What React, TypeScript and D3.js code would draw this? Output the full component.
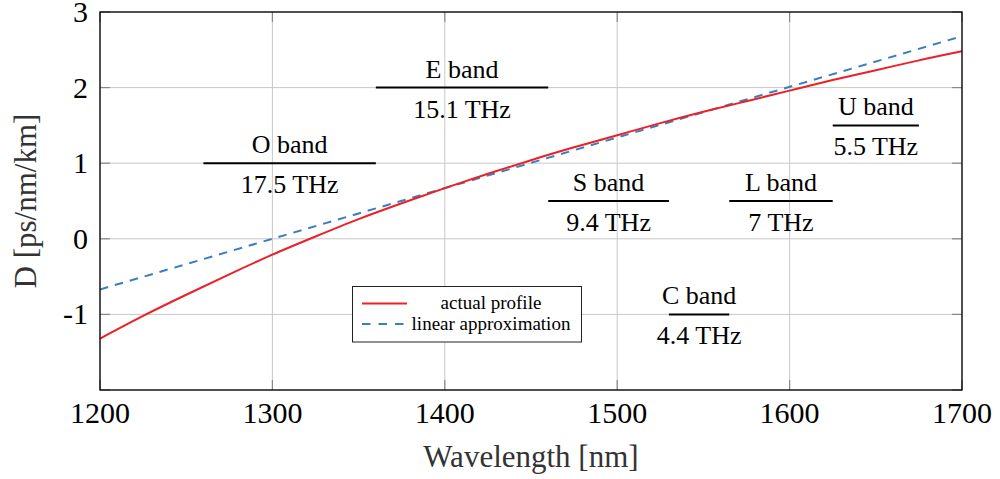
import React from "react";
import * as d3 from "d3";

// Chromatic dispersion profile of standard single-mode fibre
const wavelengths = [1200, 1225, 1250, 1275, 1300, 1325, 1350, 1375, 1400, 1425, 1450, 1475, 1500, 1525, 1550, 1575, 1600, 1625, 1650, 1675, 1700];
const actualProfile = [-1.32, -1.02, -0.74, -0.47, -0.21, 0.03, 0.26, 0.47, 0.67, 0.86, 1.04, 1.21, 1.37, 1.53, 1.68, 1.82, 1.96, 2.10, 2.23, 2.36, 2.48];

// Linear fit, zero crossing near 1300 nm
const linearWavelengths = [1200, 1300, 1700];
const linearApprox = [-0.67, 0, 2.68];

// Transmission bands: span in nm, level on the D axis, usable bandwidth
const bandNames = ["O band", "E band", "S band", "C band", "L band", "U band"];
const bandStart = [1260, 1360, 1460, 1530, 1565, 1625];
const bandEnd = [1360, 1460, 1530, 1565, 1625, 1675];
const bandLevel = [1, 2, 0.5, -1, 0.5, 1.5];
const bandCapacity = ["17.5 THz", "15.1 THz", "9.4 THz", "4.4 THz", "7 THz", "5.5 THz"];

const xTicks = [1200, 1300, 1400, 1500, 1600, 1700];
const yTicks = [-2, -1, 0, 1, 2, 3];
const yTickLabels = ["", "-1", "0", "1", "2", "3"];

const W = 1000;
const H = 479;
const left = 100;
const right = 962;
const top = 12;
const bottom = 390;

const RED = "#ec2027";
const BLUE = "#3a7ebf";
const FONT = '"Liberation Serif", "Times New Roman", Times, serif';

export default function App() {
  const x = d3.scaleLinear().domain([1200, 1700]).range([left, right]);
  const y = d3.scaleLinear().domain([-2, 3]).range([bottom, top]);

  const redLine = d3
    .line<number>()
    .x((_, i) => x(wavelengths[i]))
    .y((d) => y(d))
    .curve(d3.curveNatural)(actualProfile) as string;

  const blueLine = d3
    .line<number>()
    .x((_, i) => x(linearWavelengths[i]))
    .y((d) => y(d))(linearApprox) as string;

  const tickLen = 10;

  return (
    <svg
      width={W}
      height={H}
      style={{ position: "absolute", left: 0, top: 0, background: "#fff", fontFamily: FONT }}
    >
      <defs>
        <clipPath id="plotClip">
          <rect x={left} y={top} width={right - left} height={bottom - top} />
        </clipPath>
      </defs>

      {/* grid */}
      <g stroke="#c8c8c8" strokeWidth={1}>
        {xTicks.map((t) => (
          <line key={"gx" + t} x1={x(t)} x2={x(t)} y1={top} y2={bottom} />
        ))}
        {yTicks.map((t) => (
          <line key={"gy" + t} x1={left} x2={right} y1={y(t)} y2={y(t)} />
        ))}
      </g>

      {/* inner tick marks */}
      <g stroke="#888" strokeWidth={1.2}>
        {xTicks.map((t) => (
          <g key={"tx" + t}>
            <line x1={x(t)} x2={x(t)} y1={bottom} y2={bottom - tickLen} />
            <line x1={x(t)} x2={x(t)} y1={top} y2={top + tickLen} />
          </g>
        ))}
        {yTicks.map((t) => (
          <g key={"ty" + t}>
            <line x1={left} x2={left + tickLen} y1={y(t)} y2={y(t)} />
            <line x1={right} x2={right - tickLen} y1={y(t)} y2={y(t)} />
          </g>
        ))}
      </g>

      {/* band annotations */}
      {bandNames.map((name, i) => {
        const x0 = x(bandStart[i]);
        const x1 = x(bandEnd[i]);
        const yy = y(bandLevel[i]);
        const cx = (x0 + x1) / 2;
        return (
          <g key={name}>
            <line x1={x0} x2={x1} y1={yy} y2={yy} stroke="#000" strokeWidth={2} />
            <text x={cx} y={yy - 10} textAnchor="middle" fontSize={26} fill="#000">
              {name}
            </text>
            <text x={cx} y={yy + 30} textAnchor="middle" fontSize={26} fill="#000">
              {bandCapacity[i]}
            </text>
          </g>
        );
      })}

      {/* curves */}
      <g clipPath="url(#plotClip)" fill="none">
        <path d={blueLine} stroke={BLUE} strokeWidth={2} strokeDasharray="8.5,7" />
        <path d={redLine} stroke={RED} strokeWidth={2} />
      </g>

      {/* frame */}
      <rect x={left} y={top} width={right - left} height={bottom - top} fill="none" stroke="#000" strokeWidth={1.3} />

      {/* tick labels */}
      {xTicks.map((t) => (
        <text key={"lx" + t} x={x(t)} y={bottom + 33} textAnchor="middle" fontSize={30} fill="#000">
          {t}
        </text>
      ))}
      {yTicks.map((t, i) => (
        <text key={"ly" + t} x={88} y={y(t) + 10} textAnchor="end" fontSize={30} fill="#000">
          {yTickLabels[i]}
        </text>
      ))}

      {/* axis titles */}
      <text x={(left + right) / 2} y={467} textAnchor="middle" fontSize={31} fill="#333">
        Wavelength [nm]
      </text>
      <text
        transform={`translate(36, ${(top + bottom) / 2}) rotate(-90)`}
        textAnchor="middle"
        fontSize={31}
        fill="#333"
      >
        D [ps/nm/km]
      </text>

      {/* legend */}
      <g>
        <rect x={352.5} y={286.5} width={229} height={55.5} fill="#fff" stroke="#222" strokeWidth={1} />
        <line x1={362} x2={407} y1={303.5} y2={303.5} stroke={RED} strokeWidth={2} />
        <line x1={362} x2={407} y1={324} y2={324} stroke={BLUE} strokeWidth={2} strokeDasharray="8.5,8" />
        <text x={491} y={309} textAnchor="middle" fontSize={19} fill="#000">
          actual profile
        </text>
        <text x={491} y={330} textAnchor="middle" fontSize={19} fill="#000">
          linear approximation
        </text>
      </g>
    </svg>
  );
}
